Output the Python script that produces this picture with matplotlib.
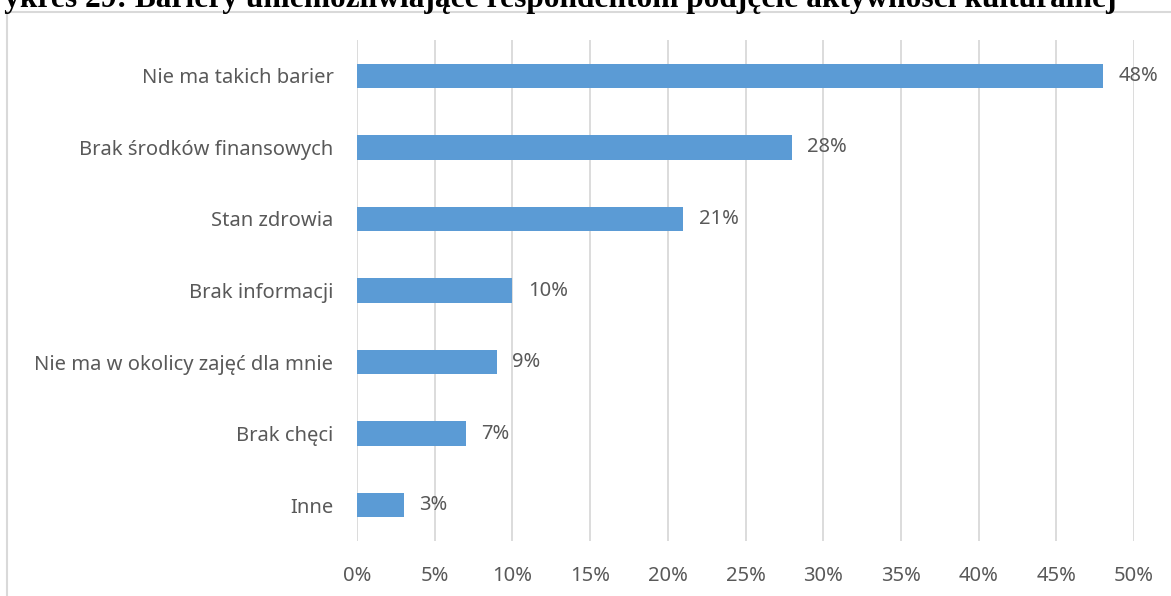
import matplotlib
matplotlib.use('Agg')
import matplotlib.pyplot as plt
from matplotlib.patches import Rectangle

# Data
CATEGORIES = ['Nie ma takich barier', 'Brak środków finansowych', 'Stan zdrowia',
              'Brak informacji', 'Nie ma w okolicy zajęć dla mnie', 'Brak chęci', 'Inne']
VALUES = [48, 28, 21, 10, 9, 7, 3]
X_TICKS = [0, 5, 10, 15, 20, 25, 30, 35, 40, 45, 50]
TITLE = 'Wykres 29: Bariery uniemożliwiające respondentom podjęcie aktywności kulturalnej'

# Style
W, H, DPI = 1171, 596, 100
BAR_COLOR = '#5B9BD5'
GRID_COLOR = '#D9D9D9'
TEXT_COLOR = '#595959'
FONT = 'Noto Sans'
FONT_SIZE = 14.5


def main():
    fig = plt.figure(figsize=(W / DPI, H / DPI), dpi=DPI)
    fig.patch.set_facecolor('white')

    # chart area border (cut by the page on right/bottom)
    fig.patches.append(Rectangle((7 / W, -0.1), 1.2, (H - 11.5) / H + 0.1,
                                 transform=fig.transFigure, fill=False,
                                 edgecolor=GRID_COLOR, linewidth=1.5))

    ax = fig.add_axes([357 / W, (H - 541) / H, (1134 - 357) / W, (541 - 40) / H])
    y = list(range(len(CATEGORIES)))
    ax.barh(y, VALUES, height=0.34, color=BAR_COLOR, zorder=3)
    ax.set_ylim(len(CATEGORIES) - 0.5, -0.5)
    ax.set_xlim(0, 50)

    ax.set_yticks(y)
    ax.set_yticklabels(CATEGORIES, fontsize=FONT_SIZE, color=TEXT_COLOR, family=FONT)
    ax.set_xticks(X_TICKS)
    ax.set_xticklabels([f'{t}%' for t in X_TICKS], fontsize=FONT_SIZE,
                       color=TEXT_COLOR, family=FONT)
    ax.tick_params(axis='y', length=0, pad=17)
    ax.tick_params(axis='x', length=0, pad=18)

    ax.grid(axis='x', color=GRID_COLOR, linewidth=1.3, zorder=0)
    for s in ax.spines.values():
        s.set_visible(False)

    for yi, v in zip(y, VALUES):
        ax.annotate(f'{v}%', (v, yi), xytext=(11, 0), textcoords='offset points',
                    va='center', ha='left', fontsize=FONT_SIZE, color=TEXT_COLOR,
                    family=FONT)

    fig.text(1117 / W, 1 - 7 / H, TITLE, ha='right', va='baseline',
             fontsize=22.6, fontweight='bold', family='Liberation Serif', color='black')

    fig.savefig('out.png', dpi=DPI)


if __name__ == '__main__':
    main()
